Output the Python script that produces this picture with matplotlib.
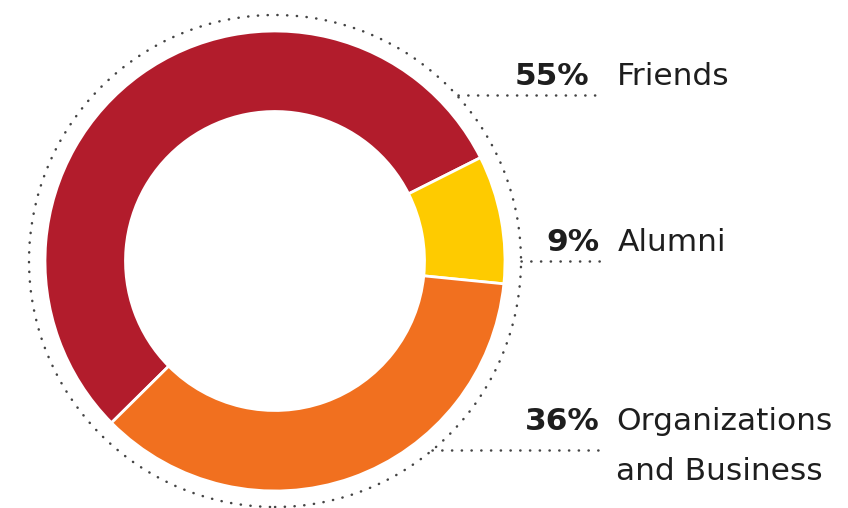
import matplotlib.pyplot as plt
from matplotlib.patches import Circle

# chart data
labels = ["Friends", "Alumni", "Organizations", "and Business"]
shares = [55, 9, 36]
pct_text = ["55%", "9%", "36%"]
colors = ["#B21C2C", "#FECB00", "#F1701F"]

W, H = 848, 508

fig = plt.figure(figsize=(W / 100, H / 100), dpi=100)
ax = fig.add_axes([0, 0, 1, 1])

# pixel y from top -> data y
def py(y):
    return H - y

cx, cy = 275, py(261)
R = 230

ax.pie(shares, colors=colors, startangle=224.7, counterclock=False,
       center=(cx, cy), radius=R, frame=True,
       wedgeprops=dict(width=R * 0.35, edgecolor="white", linewidth=2))
ax.set_xlim(0, W)
ax.set_ylim(0, H)
ax.set_aspect("equal")
ax.axis("off")

dot_style = (0, (0.1, 3.8))
dot_col = "#444444"

# dotted ring around the donut
ring = Circle((cx, cy), 246, fill=False, edgecolor=dot_col, linewidth=1.8,
              linestyle=dot_style, capstyle="round")
ax.add_patch(ring)

# leader lines: (y of line, x start, x end)
leaders = [(95, 458, 596), (261, 521, 600), (450, 432, 600)]
for y, x0, x1 in leaders:
    ax.plot([x0, x1], [py(y), py(y)], color=dot_col, lw=1.8,
            linestyle=dot_style, dash_capstyle="round")

# text positions: (x right of pct, x of name, baseline y)
text_pos = [(589, 617, 85), (600, 618, 251), (600, 616, 430)]
fs = 22.5
for (xp, xn, yb), p, name in zip(text_pos, pct_text, labels):
    ax.text(xp, py(yb), p, ha="right", va="baseline", fontsize=fs,
            fontweight="bold", color="#1e1e1e", family="DejaVu Sans")
    ax.text(xn, py(yb), name, ha="left", va="baseline", fontsize=fs,
            color="#1e1e1e", family="DejaVu Sans")
# second line of the last label
ax.text(616, py(480), labels[3], ha="left", va="baseline", fontsize=fs,
        color="#1e1e1e", family="DejaVu Sans")

fig.savefig("out.png", dpi=100)
